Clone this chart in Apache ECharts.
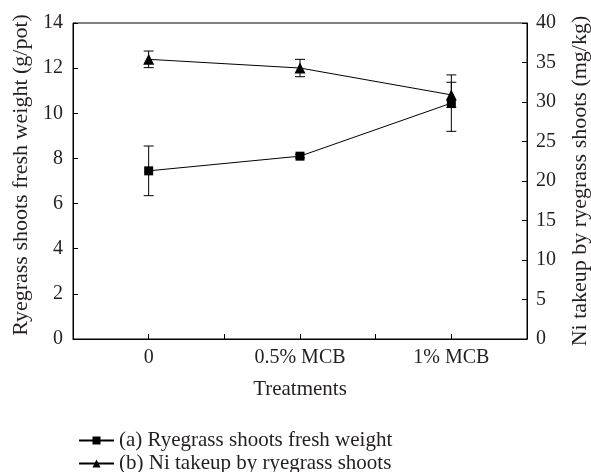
<!DOCTYPE html>
<html>
<head>
<meta charset="utf-8">
<script src="https://cdn.jsdelivr.net/npm/echarts@6/dist/echarts.min.js"></script>
<style>html,body{margin:0;padding:0;background:#fff}#c{width:591px;height:472px}</style>
</head>
<body>
<div id="c"></div>
<script>
var categories = ['0', '0.5% MCB', '1% MCB'];
var freshWeight = [7.45, 8.1, 10.45];
var freshWeightErr = [1.1, 0.08, 1.25];
var niTakeup = [35.4, 34.3, 30.9];
var niTakeupErr = [1.05, 1.1, 1.6];
var leftTicks = [0, 2, 4, 6, 8, 10, 12, 14];
var rightTicks = [0, 5, 10, 15, 20, 25, 30, 35, 40];
var seriesNames = ['(a) Ryegrass shoots fresh weight', '(b) Ni takeup by ryegrass shoots'];

var FONT = 'Liberation Serif';
var TXT = '#231f20';

function pts(vals) { return vals.map(function (v, i) { return [i, v]; }); }
function errData(vals, errs) { return vals.map(function (v, i) { return [i, v - errs[i], v + errs[i]]; }); }

function errRender(params, api) {
  var x = api.value(0);
  var lo = api.coord([x, api.value(1)]);
  var hi = api.coord([x, api.value(2)]);
  var hw = 5;
  var st = { stroke: '#000', lineWidth: 1, fill: null };
  return {
    type: 'group',
    children: [
      { type: 'line', shape: { x1: lo[0], y1: lo[1], x2: hi[0], y2: hi[1] }, style: st },
      { type: 'line', shape: { x1: lo[0] - hw, y1: lo[1], x2: lo[0] + hw, y2: lo[1] }, style: st },
      { type: 'line', shape: { x1: hi[0] - hw, y1: hi[1], x2: hi[0] + hw, y2: hi[1] }, style: st }
    ]
  };
}

var chart = echarts.init(document.getElementById('c'), null, { renderer: 'canvas' });
function axisCommon(nameSize) {
  return {
    axisLine: { show: true, onZero: false, lineStyle: { color: '#000', width: 1 } },
    axisTick: { show: true, inside: true, length: 5, lineStyle: { color: '#000' } },
    splitLine: { show: false },
    nameTextStyle: { color: TXT, fontFamily: FONT, fontSize: nameSize }
  };
}
function lbl(extra) {
  return Object.assign({ color: TXT, fontFamily: FONT, fontSize: 20 }, extra);
}
function legendFor(i, top) {
  return {
    orient: 'vertical', left: 73, top: top, itemWidth: 35, itemHeight: 10, itemGap: 0,
    textStyle: { color: TXT, fontFamily: FONT, fontSize: 21 },
    data: [seriesNames[i]]
  };
}
chart.setOption({
  animation: false,
  textStyle: { fontFamily: FONT },
  grid: { left: 73, right: 64, top: 23, bottom: 133, show: true, borderColor: '#000', borderWidth: 1, outerBoundsMode: 'none', containLabel: false },
  xAxis: Object.assign(axisCommon(21), {
    type: 'value', min: -0.5, max: 2.5, interval: 0.5,
    name: 'Treatments', nameLocation: 'middle', nameGap: 40,
    axisLabel: lbl({
      margin: 9,
      formatter: function (v) { return Number.isInteger(v) && categories[v] !== undefined ? categories[v] : ''; }
    })
  }),
  yAxis: [
    Object.assign(axisCommon(22), {
      type: 'value', min: leftTicks[0], max: leftTicks[leftTicks.length - 1], interval: 2,
      name: 'Ryegrass shoots fresh weight (g/pot)', nameLocation: 'middle', nameGap: 41,
      nameTextStyle: { color: TXT, fontFamily: FONT, fontSize: 22, padding: [0, 0, 0, 12] },
      axisLabel: lbl({ margin: 10 })
    }),
    Object.assign(axisCommon(22), {
      type: 'value', position: 'right', min: rightTicks[0], max: rightTicks[rightTicks.length - 1], interval: 5,
      name: 'Ni takeup by ryegrass shoots (mg/kg)', nameLocation: 'middle', nameGap: 42, nameRotate: 90,
      axisLabel: lbl({ margin: 9 })
    })
  ],
  legend: [legendFor(0, 425), legendFor(1, 448)],
  series: [
    {
      name: seriesNames[0], type: 'line', yAxisIndex: 0,
      data: pts(freshWeight), symbol: 'rect', symbolSize: 9,
      lineStyle: { color: '#000', width: 1 }, itemStyle: { color: '#000' }, z: 3
    },
    {
      name: seriesNames[1], type: 'line', yAxisIndex: 1,
      data: pts(niTakeup), symbol: 'triangle', symbolSize: 11,
      lineStyle: { color: '#000', width: 1 }, itemStyle: { color: '#000' }, z: 3
    },
    { type: 'custom', yAxisIndex: 0, renderItem: errRender, data: errData(freshWeight, freshWeightErr), z: 2, encode: { x: 0, y: [1, 2] } },
    { type: 'custom', yAxisIndex: 1, renderItem: errRender, data: errData(niTakeup, niTakeupErr), z: 2, encode: { x: 0, y: [1, 2] } }
  ]
});
</script>
</body>
</html>
